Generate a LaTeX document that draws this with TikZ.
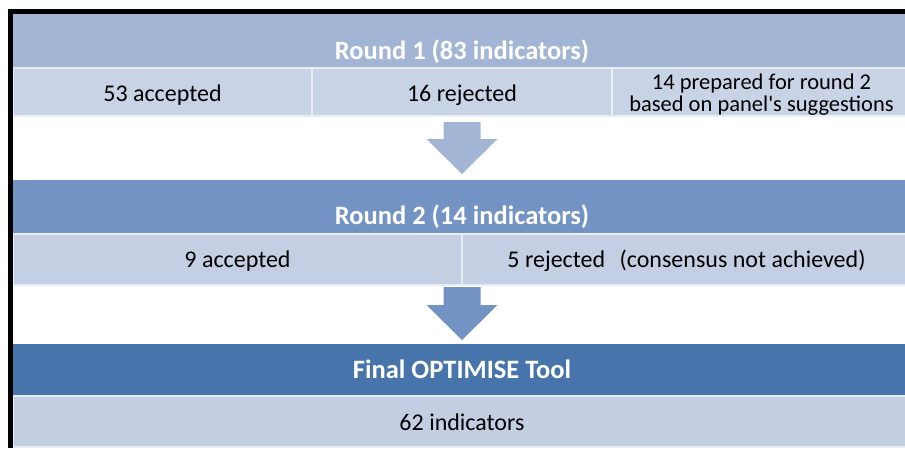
\documentclass[tikz,border=0pt]{standalone}
\usepackage{fontspec}
\setmainfont{Carlito}[Ligatures=TeXOff]
\usepackage{tikz}
\usetikzlibrary{calc}
\usetikzlibrary{positioning}

\definecolor{headA}{HTML}{A3B5D5}
\definecolor{cellA}{HTML}{C9D3E6}
\definecolor{headB}{HTML}{7293C4}
\definecolor{cellB}{HTML}{C5CFE3}
\definecolor{headC}{HTML}{4775AB}
\definecolor{cellC}{HTML}{C3CEE2}

\begin{document}
\begin{tikzpicture}[x=1pt,y=-1pt]
            \tikzstyle{band} = [minimum width=898pt, inner sep=0pt, outer sep=0pt]
            \tikzstyle{cell} = [inner sep=0pt, outer sep=0pt, line width=1.2pt]
            \tikzstyle{title} = [anchor=base, inner sep=0pt, text=white, font=\fontsize{26.5}{32}\selectfont\bfseries]
            \tikzstyle{entry} = [anchor=base, inner sep=0pt, text=black, font=\fontsize{24}{29}\selectfont]
            \useasboundingbox (0,0) rectangle (905,448);

            \node (h1) [band, fill=headA, minimum height=54pt] at (462,41) {};
            \node (r1a) [cell, fill=cellA, draw=cellA!40!white, minimum width=299pt, minimum height=48pt] at (162.5,92) {};
            \node (r1b) [cell, fill=cellA, draw=cellA!40!white, minimum width=300pt, minimum height=48pt, right=0pt of r1a] {};
            \node (r1c) [cell, fill=cellA, draw=cellA!40!white, minimum width=299pt, minimum height=48pt, right=0pt of r1b] {};
            \node (t1) [title] at ($(h1.south)+(0,-9)$) {Round 1 (83 indicators)};
            \node (t1a) [entry] at ($(r1a.south)+(0,-15)$) {53 accepted};
            \node (t1b) [entry] at ($(r1b.south)+(0,-15)$) {16 rejected};
            \node (t1c) [entry, font=\fontsize{22.5}{27}\selectfont] at ($(r1c.south)+(0,-27)$) {14 prepared for round 2};
            \node (t1d) [entry, font=\fontsize{22.5}{27}\selectfont] at ($(r1c.south)+(0,-5)$) {based on panel's suggestions};

            \node (h2) [band, fill=headB, minimum height=54pt] at (462,207) {};
            \node (r2a) [cell, fill=cellB, draw=cellB!40!white, minimum width=449pt, minimum height=51pt] at (237.5,259.5) {};
            \node (r2b) [cell, fill=cellB, draw=cellB!40!white, minimum width=449pt, minimum height=51pt, right=0pt of r2a] {};
            \node (t2) [title] at ($(h2.south)+(0,-10)$) {Round 2 (14 indicators)};
            \node (t2a) [entry] at ($(r2a.south)+(0,-18)$) {9 accepted};
            \node (t2b) [entry] at ($(r2b.south)+(0,-18)$) {5 rejected\hspace{0.6em}(consensus not achieved)};

            \node (h3) [band, fill=headC, minimum height=52pt] at (462,370) {};
            \node (r3) [cell, fill=cellC, draw=cellC!40!white, minimum width=898pt, minimum height=51pt] at (462,421.5) {};
            \node (t3) [title] at ($(h3.south)+(0,-18)$) {Final OPTIMISE Tool};
            \node (t3a) [entry] at ($(r3.south)+(0,-17)$) {62 indicators};

            \coordinate (a1) at ($(r1b.south)+(0,6)$);
            \coordinate (a1t) at ($(h2.north)+(0,-6)$);
            \fill[headA] ($(a1)+(-18.5,0)$) -- ($(a1)+(18.5,0)$) -- ($(a1)+(18.5,17)$) -- ($(a1)+(35.5,17)$)
                -- (a1t) -- ($(a1)+(-35.5,17)$) -- ($(a1)+(-18.5,17)$) -- cycle;

            \coordinate (a2) at ($(r2a.south east)+(0,2)$);
            \coordinate (a2t) at ($(h3.north)+(0,-4)$);
            \fill[headB] ($(a2)+(-18.5,0)$) -- ($(a2)+(18.5,0)$) -- ($(a2)+(18.5,18)$) -- ($(a2)+(35.5,18)$)
                -- (a2t) -- ($(a2)+(-35.5,18)$) -- ($(a2)+(-18.5,18)$) -- cycle;

            \draw[line width=5pt] (10.5,448) -- (10.5,11.5) -- (905,11.5);
        \end{tikzpicture}
\end{document}
